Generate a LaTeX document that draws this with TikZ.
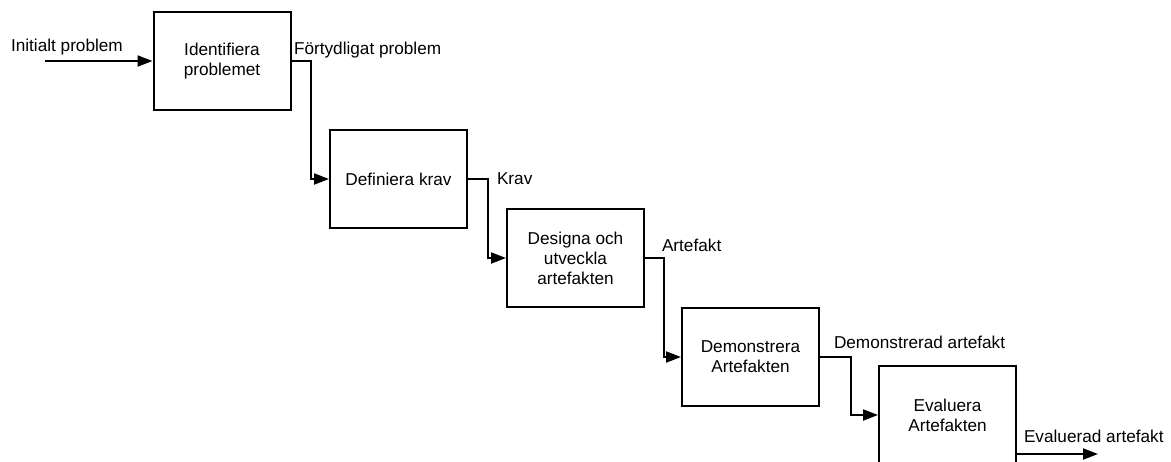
\documentclass[tikz,border=0pt]{standalone}
\usepackage{fontspec}
\setmainfont{Liberation Sans}
\usepackage{tikz}
\usetikzlibrary{arrows, arrows.meta, positioning}

\tikzset{
	box/.style={draw=black, line width=1pt, minimum width=68.5pt, minimum height=49pt, align=center, inner sep=0pt},
	lbl/.style={anchor=base west, inner sep=0pt}
}

\begin{document}
\begin{tikzpicture}[x=0.5pt, y=-0.5pt,
			->,
			>={Triangle[length=7.5pt, width=5.5pt]},
			line width=1pt,
			font=\fontsize{8.6}{10}\selectfont]

			\useasboundingbox (0,0) rectangle (1171,461);

			\node[box] (ident) at (222,61) {Identifiera\\problemet};
			\node[box] (defkrav) at (398.5,179) {Definiera krav};
			\node[box] (design) at (575.5,258) {Designa och\\utveckla\\artefakten};
			\node[box] (demo) at (750.5,357) {Demonstrera\\Artefakten};
			\node[box] (eval) at (947.5,415) {Evaluera\\Artefakten};

			\node[lbl] (lin) at (10,51) {Initialt problem};
			\node[lbl] (lforty) at (293,54) {Förtydligat problem};
			\node[lbl] (lkrav) at (496,184) {Krav};
			\node[lbl] (lartef) at (661,251) {Artefakt};
			\node[lbl] (ldemo) at (833,348) {Demonstrerad artefakt};
			\node[lbl] (leval) at (1023,442) {Evaluerad artefakt};

			\coordinate (start) at (45,61);
			\coordinate (finish) at (1098,454);
			\draw (start) -- (ident.west);
			\draw (ident.east) -- ++(19,0) |- (defkrav.west);
			\draw (defkrav.east) -- ++(20,0) |- (design.west);
			\draw (design.east) -- ++(19,0) |- (demo.west);
			\draw (demo.east) -- ++(31,0) |- (eval.west);
			\draw (eval.east |- finish) -- (finish);
		\end{tikzpicture}
\end{document}
